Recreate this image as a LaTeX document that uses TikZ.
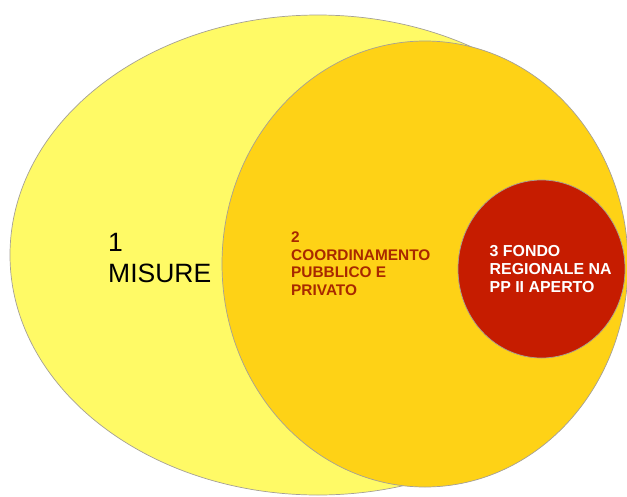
\documentclass[tikz,border=0pt]{standalone}
\usepackage{fontspec}
\setmainfont{Liberation Sans}
\definecolor{misure}{RGB}{255,250,102}
\definecolor{coord}{RGB}{254,210,22}
\definecolor{fondo}{RGB}{198,28,0}
\definecolor{coordtext}{RGB}{168,40,0}
\definecolor{rim}{RGB}{165,160,150}
\begin{document}
\begin{tikzpicture}[x=1pt,y=-1pt, align=left]
\useasboundingbox (0,0) rectangle (627,496);
\draw[rim, fill=misure, line width=0.7pt] (318,255) ellipse (308 and 240);
\draw[rim, fill=coord, line width=0.7pt] (425,264) ellipse (203 and 223);
\draw[rim, fill=fondo, line width=0.7pt] (541.5,269) ellipse (83.5 and 89);
\node[anchor=north west, inner sep=0, font=\fontsize{26.5}{31}\selectfont] (misure) at (108,233) {1\\MISURE};
\node[anchor=north west, inner sep=0, text=coordtext, font=\fontsize{15.4}{17.5}\selectfont\bfseries] (coordinamento) at (291,232) {2\\COORDINAMENTO\\PUBBLICO E\\PRIVATO};
\node[anchor=north west, inner sep=0, text=white, font=\fontsize{15.9}{18}\selectfont\bfseries] (fondo) at (489.5,245.5) {3 FONDO\\REGIONALE NA\\PP II APERTO};
\end{tikzpicture}
\end{document}
